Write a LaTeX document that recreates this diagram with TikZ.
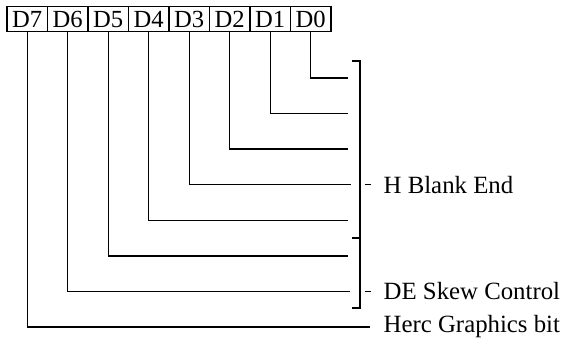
\documentclass[tikz,border=0pt]{standalone}
\usepackage{fontspec}
\setmainfont{Liberation Serif}
\usepackage{tikz}

\begin{document}
\begin{tikzpicture}[x=1pt,y=-1pt,line width=1.4pt,line cap=butt,line join=miter,
    bitbox/.style={draw,line width=1.2pt,minimum width=40.5pt,minimum height=25pt,inner sep=0pt,
      font=\fontsize{24.6}{26}\selectfont},
    fieldlabel/.style={anchor=west,inner sep=0pt,font=\fontsize{24.8}{26}\selectfont}]
  \useasboundingbox (0,0) rectangle (564,339);
  % register bits
  \foreach \k in {7,...,0} {
    \node[bitbox] (d\k) at ({27.25+(7-\k)*40.5},19.3) {D\k};
    \coordinate (e\k) at (348,{78+\k*35.57});
  }
  \coordinate (e3) at (351,184.7);
  \coordinate (e6) at (350,291.4);
  \coordinate (e7) at (370,327);
  \foreach \k in {0,...,7}
    \draw (d\k.south) |- (e\k);
  % brackets
  \draw (352,61) -- (360,61) -- (360,308) -- (352,308);
  \draw (352,238) -- (360,238);
  \draw (365,184.7) -- (371,184.7);
  \draw (365,291.4) -- (371,291.4);
  \node[fieldlabel] (hblank) at (383,184.7) {H Blank End};
  \node[fieldlabel] (deskew) at (383,291.4) {DE Skew Control};
  \node[fieldlabel] (herc) at (383,327) {Herc Graphics bit};
\end{tikzpicture}
\end{document}
